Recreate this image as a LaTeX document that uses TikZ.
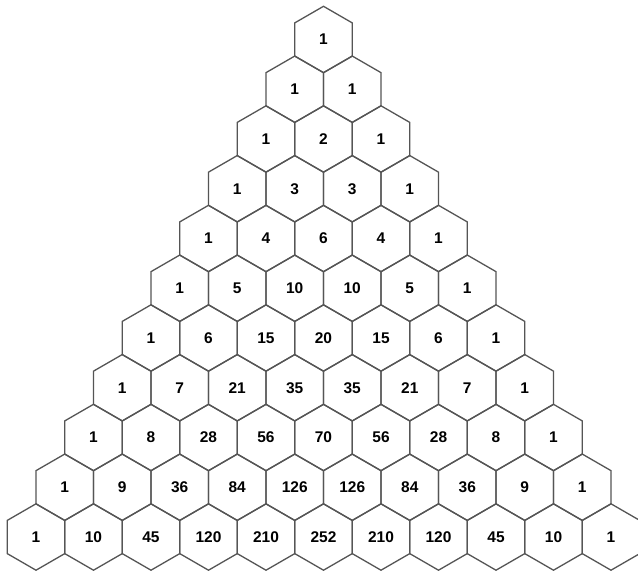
\documentclass[tikz,border=0pt]{standalone}
\usepackage{fontspec}
\setmainfont{Liberation Sans}
\usetikzlibrary{shapes.geometric}
\definecolor{hexline}{RGB}{85,85,85}
\tikzset{
  hexcell/.style={regular polygon, regular polygon sides=6, shape border rotate=30,
    minimum size=66.4pt, inner sep=0pt, outer sep=0pt, draw=hexline, line width=1.3pt,
    font=\fontsize{15.5}{17}\selectfont\bfseries, text=black}
}
\begin{document}
\begin{tikzpicture}[x=1pt,y=-1pt]
\useasboundingbox[fill=white] (0,0) rectangle (638,571);
\foreach \r/\row in {0/{1},1/{1,1},2/{1,2,1},3/{1,3,3,1},4/{1,4,6,4,1},5/{1,5,10,10,5,1},
  6/{1,6,15,20,15,6,1},7/{1,7,21,35,35,21,7,1},8/{1,8,28,56,70,56,28,8,1},
  9/{1,9,36,84,126,126,84,36,9,1},10/{1,10,45,120,210,252,210,120,45,10,1}}{
  \foreach \v [count=\k from 0] in \row {
    \node[hexcell] (h-\r-\k) at ({323.5+(2*\k-\r)*28.75},{39.5+\r*49.75}) {\v};
  }
}
\end{tikzpicture}
\end{document}
